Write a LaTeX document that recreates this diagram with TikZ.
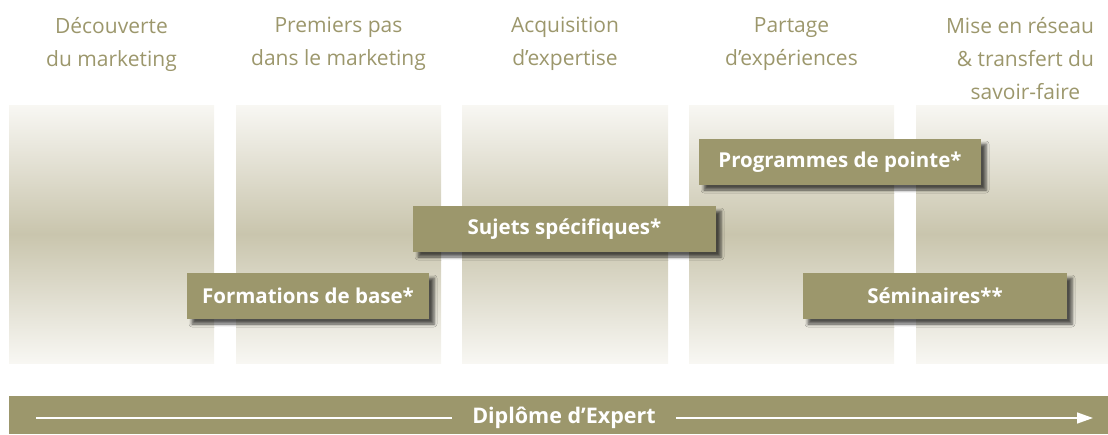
\documentclass[tikz,border=0pt]{standalone}
\usepackage{fontspec}
\setmainfont{Open Sans}
\usetikzlibrary{arrows.meta,shadows.blur}

\definecolor{olive}{HTML}{9C976C}
\definecolor{phasemid}{HTML}{C9C5AD}
\definecolor{phasetop}{HTML}{F8F7F3}

\tikzset{
    heading/.style={align=center, text=olive, anchor=north, inner sep=0pt,
        font=\fontsize{21}{33}\selectfont, execute at begin node=\strut},
    phase/.style={top color=phasetop, bottom color=phasetop, middle color=phasemid},
    module/.style={fill=olive, text=white, inner sep=0pt, minimum height=46pt,
        font=\fontsize{20.5}{24}\selectfont\bfseries,
        blur shadow={shadow xshift=5pt, shadow yshift=-5pt, shadow blur radius=3pt, shadow opacity=65}},
}

\begin{document}
\begin{tikzpicture}[x=1pt, y=-1pt]
    	% Paths, nodes and wires:
    	\useasboundingbox (0, 0) rectangle (1108, 434);
    	\shade[phase] (9, 105) rectangle (214, 363);
    	\shade[phase] (236, 105) rectangle (441, 363);
    	\shade[phase] (462, 105) rectangle (668, 363);
    	\shade[phase] (689, 105) rectangle (894, 363);
    	\shade[phase] (916, 105) rectangle (1108, 363);
    	\node[heading] (h1) at (111.5, 17) {Découverte\\du marketing};
    	\node[heading] (h2) at (338.5, 17) {Premiers pas\\dans le marketing};
    	\node[heading] (h3) at (565, 17) {Acquisition\\d’expertise};
    	\node[heading] (h4) at (791.5, 17) {Partage\\d’expériences};
    	\node[heading] (h5) at (1020, 17) {Mise en réseau\\\ \ \& transfert du\\\ \ savoir-faire};
    	\node[module, minimum width=242pt] (base) at (308, 296) {Formations de base*};
    	\node[module, minimum width=303pt] (sujets) at (564.5, 229) {Sujets spécifiques*};
    	\node[module, minimum width=282pt] (pointe) at (840, 162) {Programmes de pointe*};
    	\node[module, minimum width=264pt] (seminaires) at (935, 296) {Séminaires**};
    	\fill[olive] (9, 396) rectangle (1108, 434);
    	\node[fill=olive, text=white, inner xsep=20pt, inner ysep=0pt, font=\fontsize{21.5}{24}\selectfont\bfseries] (diplome) at (564, 418) {Diplôme d’Expert};
    	\coordinate (start) at (36, 418);
    	\coordinate (tip) at (1093, 418);
    	\draw[white, line width=1.5pt] (start) -- (diplome.west);
    	\draw[white, line width=1.5pt, -{Triangle[length=16pt, width=11pt]}] (diplome.east) -- (tip);
    \end{tikzpicture}
\end{document}
